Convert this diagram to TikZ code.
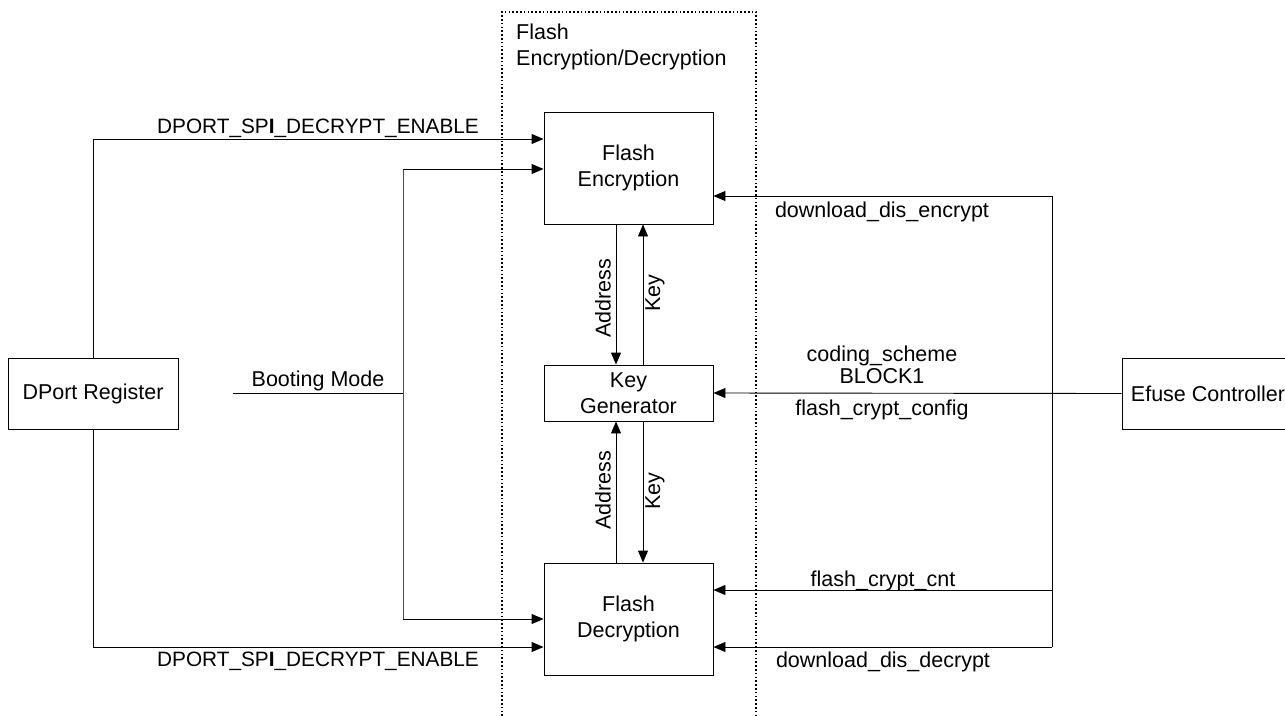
\documentclass[tikz,border=0pt]{standalone}
\usepackage{fontspec}
\setmainfont{Liberation Sans}
\usetikzlibrary{arrows.meta,calc}
\begin{document}
\begin{tikzpicture}[x=1pt,y=-1pt,
  font=\fontsize{21.5}{26}\selectfont,
  blk/.style={draw,line width=0.9pt,align=center,inner sep=0pt},
  wire/.style={line width=0.9pt},
  arr/.style={line width=0.9pt,-{Triangle[length=12pt,width=10pt]}},
  lbl/.style={inner sep=0pt,anchor=center},
  caps/.style={lbl,font=\fontsize{20.8}{26}\selectfont}]
\useasboundingbox (0,0) rectangle (1285,715);
% dotted container
\draw[line width=1.8pt,dash pattern=on 1.6pt off 2.2pt] (502,716) -- (502,12) -- (756,12) -- (756,716);
\node[lbl,anchor=north west,align=left] (title) at (516,24) {Flash\\Encryption/Decryption};
% blocks
\node[blk,minimum width=170pt,minimum height=71pt] (dport) at (93,393.5) {DPort Register};
\node[blk,minimum width=172pt,minimum height=71pt] (efuse) at (1208,393.5) {Efuse Controller};
\node[blk,minimum width=169pt,minimum height=112pt] (enc) at (628.5,168) {Flash\\Encryption};
\node[blk,minimum width=169pt,minimum height=56pt] (kg) at (628.5,393) {Key\\Generator};
\node[blk,minimum width=169pt,minimum height=112pt] (dec) at (628.5,619) {Flash\\Decryption};
% coordinates
\coordinate (dt) at (93,139);
\coordinate (db) at (93,647);
\coordinate (bm) at (233,393);
\coordinate (bj) at (403,393);
\coordinate (bt) at (403,169);
\coordinate (bb) at (403,619);
\coordinate (rt) at (1052,196);
\coordinate (rm) at (1052,590);
\coordinate (rb) at (1052,647);
% DPort connectors
\draw[arr] (dport.north) -- (dt) -- (enc.west |- dt);
\draw[arr] (dport.south) -- (db) -- (dec.west |- db);
% Booting mode
\draw[wire] (bm) -- (bj);
\draw[wire,draw=black!70] (bt) -- (bb);
\draw[arr] (bt) -- (enc.west |- bt);
\draw[arr] (bb) -- (dec.west |- bb);
% internal
\draw[arr] (enc.south -| 616,0) -- (kg.north -| 616,0);
\draw[arr] (kg.north -| 643,0) -- (enc.south -| 643,0);
\draw[arr] (dec.north -| 616,0) -- (kg.south -| 616,0);
\draw[arr] (kg.south -| 643,0) -- (dec.north -| 643,0);
% right side
\draw[wire] (rt) -- (rb);
\draw[arr] (rt) -- (enc.east |- rt);
\draw[arr] (rm) -- (dec.east |- rm);
\draw[arr] (rb) -- (dec.east |- rb);
\draw[arr] (efuse.west) -- (kg.east);
% labels
\node[caps] (l1) at (318,128) {DPORT\_SP{\bfseries I}\_DECRYPT\_ENABLE};
\node[caps] (l2) at (318,661) {DPORT\_SP{\bfseries I}\_DECRYPT\_ENABLE};
\node[lbl] (l3) at (318,381) {Booting Mode};
\node[lbl,rotate=90] (l4) at (603,298) {Address};
\node[lbl,rotate=90] (l5) at (655,293) {Key};
\node[lbl,rotate=90] (l6) at (603,490) {Address};
\node[lbl,rotate=90] (l7) at (655,491) {Key};
\node[lbl] (l8) at (882,212) {download\_dis\_encrypt};
\node[lbl] (l9) at (882,356) {coding\_scheme};
\node[lbl] (l10) at (882,376) {BLOCK1};
\node[lbl] (l11) at (882,410) {flash\_crypt\_config};
\node[lbl] (l12) at (883,581) {flash\_crypt\_cnt};
\node[lbl] (l13) at (883,662) {download\_dis\_decrypt};
\end{tikzpicture}
\end{document}
